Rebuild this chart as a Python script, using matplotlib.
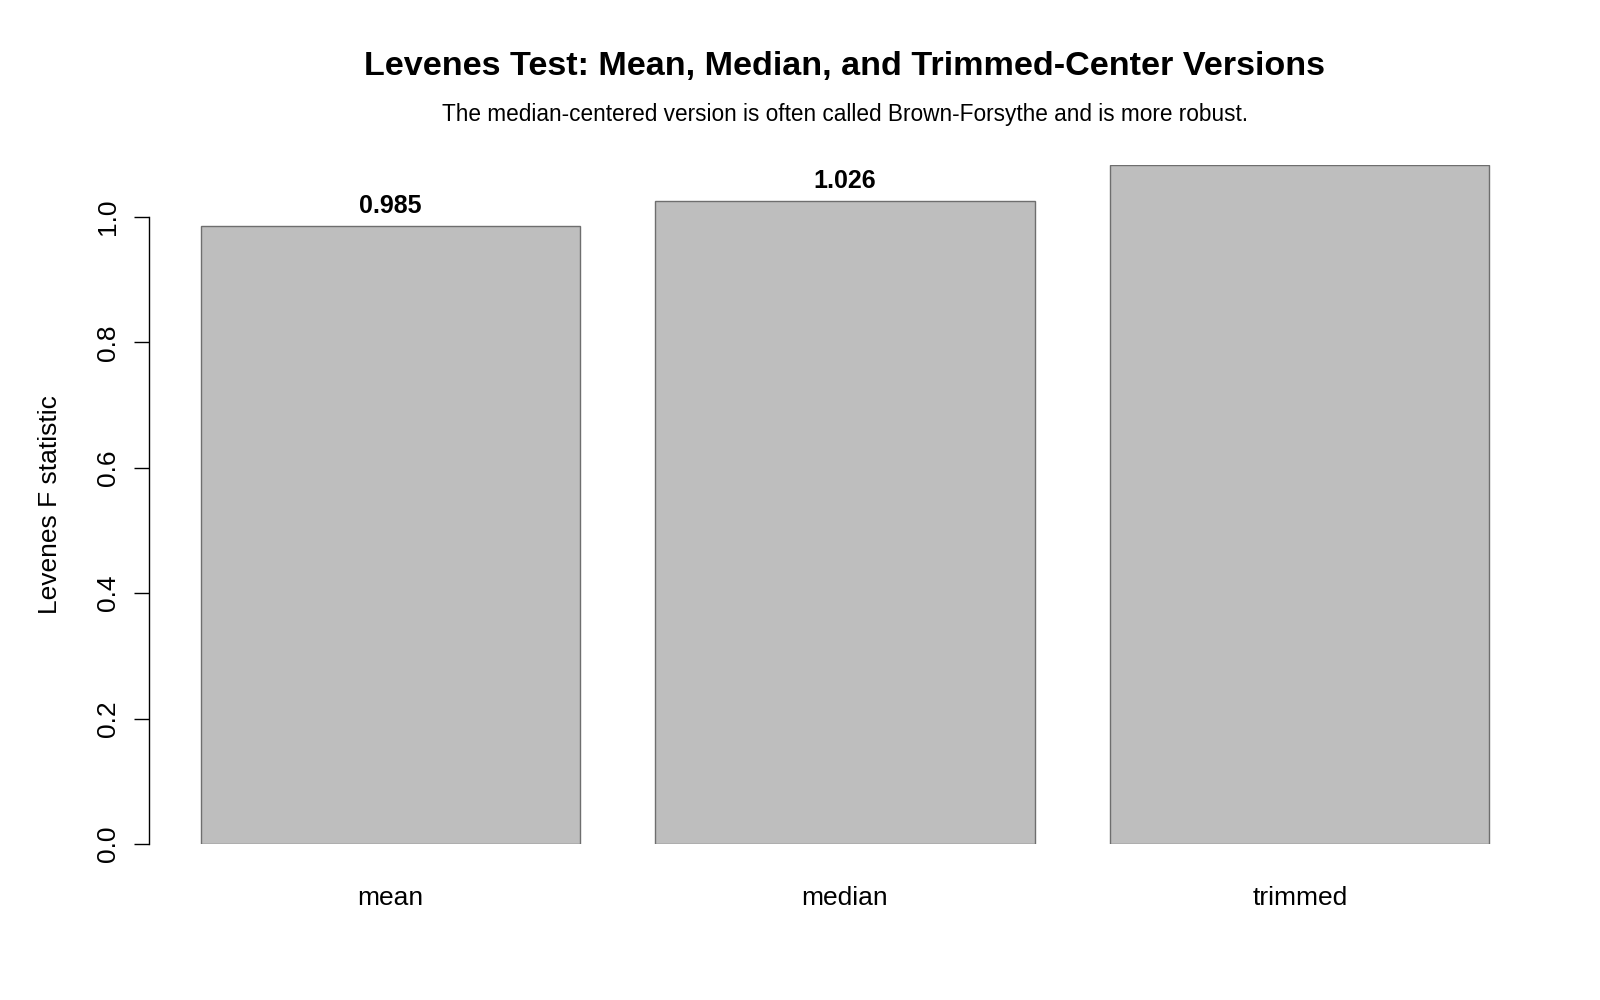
import matplotlib
matplotlib.use('Agg')
import matplotlib.pyplot as plt
import numpy as np

plt.rcParams['font.family'] = ['Liberation Sans', 'DejaVu Sans']

# data
methods = ['mean', 'median', 'trimmed']
fstat = [0.985, 1.026, 1.083]
yticks = [0.0, 0.2, 0.4, 0.6, 0.8, 1.0]

title = 'Levenes Test: Mean, Median, and Trimmed-Center Versions'
subtitle = 'The median-centered version is often called Brown-Forsythe and is more robust.'

fig = plt.figure(figsize=(16, 10), dpi=100)
# plot region in pixels (R-like margins)
left, right, top, bottom = 149, 149 + 1392, 165, 844
ax = fig.add_axes([left / 1600, 1 - bottom / 1000, (right - left) / 1600, (bottom - top) / 1000])

# R barplot layout: width 1, space 0.2
xpos = 0.2 + np.arange(len(methods)) * 1.2 + 0.5
ax.bar(xpos, fstat, width=1.0, color='#bebebe', edgecolor='#6e6e6e', linewidth=1.0)

ax.set_xlim(0.064, 3.736)
ax.set_ylim(0, max(fstat))

for x, v in zip(xpos, fstat):
    ax.annotate(f'{v:.3f}', (x, v), xytext=(0, 14.5), textcoords='offset points',
                ha='center', va='center', fontsize=18, fontweight='bold',
                annotation_clip=True, clip_on=True)

for s in ['top', 'right', 'bottom']:
    ax.spines[s].set_visible(False)
ax.spines['left'].set_bounds(0, 1.0)
ax.spines['left'].set_linewidth(1.0)

ax.set_yticks(yticks)
ax.set_yticklabels([f'{t:.1f}' for t in yticks], rotation=90, va='center', fontsize=19)
ax.tick_params(axis='y', length=11, width=1.0, pad=10)

ax.set_xticks(xpos)
ax.set_xticklabels(methods, fontsize=19)
ax.tick_params(axis='x', length=0, pad=30)

ax.set_ylabel('Levenes F statistic', fontsize=19, labelpad=24)

cx = (left + right) / 2 / 1600
fig.text(cx, 1 - 66 / 1000, title, ha='center', va='center', fontsize=24.6, fontweight='bold')
fig.text(cx, 1 - 115 / 1000, subtitle, ha='center', va='center', fontsize=16.3)

fig.savefig('out.png', dpi=100)
